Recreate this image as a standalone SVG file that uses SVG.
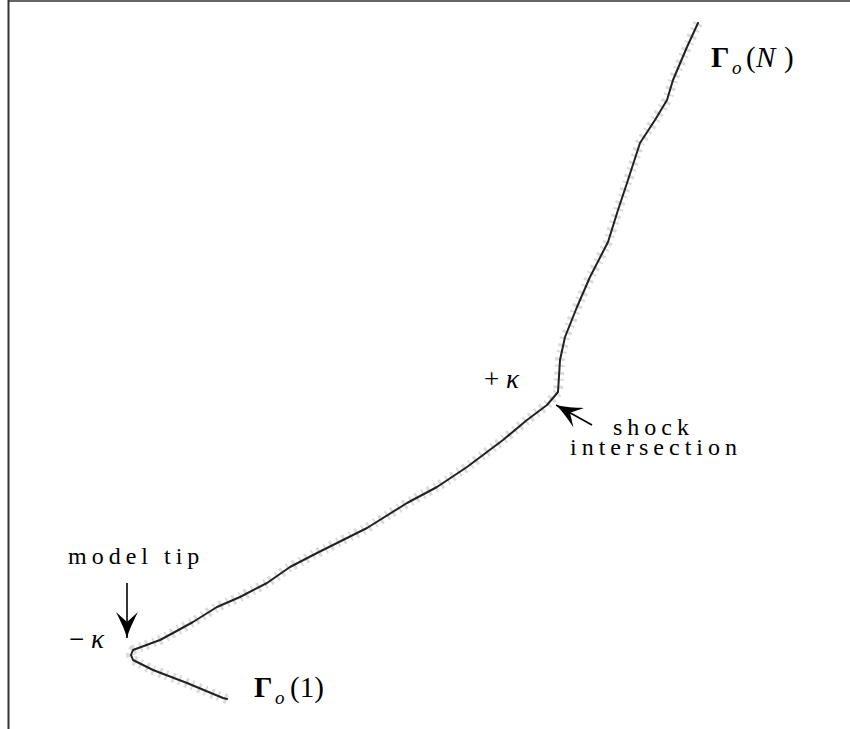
<svg xmlns="http://www.w3.org/2000/svg" width="850" height="729" viewBox="0 0 850 729">
<style>
.lbl{font-family:"Liberation Serif","Times New Roman",serif;font-size:24px;fill:#000;letter-spacing:5px}
.math{font-family:"Liberation Serif","Times New Roman",serif;font-size:27px;fill:#000}
.it{font-style:italic}
.bf{font-weight:bold}
.curve{fill:none;stroke:#222;stroke-width:2;stroke-linejoin:round;stroke-linecap:round}
.fuzz{fill:none;stroke:#cfcfcf;stroke-width:10;stroke-dasharray:3 5 2 4;stroke-linejoin:round;opacity:0.75}
.shaft{fill:none;stroke:#000;stroke-width:1.6}
</style>
<defs>
<marker id="ah" markerUnits="userSpaceOnUse" viewBox="0 0 28 22" refX="26" refY="11" markerWidth="28" markerHeight="22" orient="auto">
<path d="M26,11 C18,9 8,4 0,0 L10,11 L0,22 C8,18 18,13 26,11 Z" fill="#000"/>
</marker>
</defs>
<g id="frame">
<line x1="8" y1="1" x2="850" y2="1" stroke="#666" stroke-width="2"/>
<line x1="8.5" y1="0" x2="8.5" y2="729" stroke="#333" stroke-width="2"/>
</g>
<g id="shock-curve">
<path class="fuzz" d="M227,699 L223,698 L187,683 L153,670 L133,660 L131,655 L133,650 L160,640 L173,633 L193,622 L217,607 L240,597 L267,583 L290,567 L317,553 L367,528 L407,503 L437,487 L467,467 L503,440 L527,420 L547,405 L558,392 L560,360 L565,337 L577,307 L590,277 L608,242 L618,210 L627,183 L640,143 L655,120 L667,100 L673,80 L687,47 L698,23"/>
<path class="curve" d="M227,699 L223,698 L187,683 L153,670 L133,660 L131,655 L133,650 L160,640 L173,633 L193,622 L217,607 L240,597 L267,583 L290,567 L317,553 L367,528 L407,503 L437,487 L467,467 L503,440 L527,420 L547,405 L558,392 L560,360 L565,337 L577,307 L590,277 L608,242 L618,210 L627,183 L640,143 L655,120 L667,100 L673,80 L687,47 L698,23"/>
</g>
<g id="connectors">
<line class="shaft" x1="127" y1="583" x2="127" y2="638" marker-end="url(#ah)"/>
<line class="shaft" x1="592" y1="425" x2="556" y2="405" marker-end="url(#ah)"/>
</g>
<g id="label-gammaN">
<text class="math" y="67"><tspan class="bf" x="711" font-size="29">Γ</tspan><tspan class="it" x="732" y="74" font-size="19">o</tspan><tspan x="746" y="67" font-size="29">(</tspan><tspan class="it" x="756" font-size="29">N</tspan><tspan x="784" font-size="29">)</tspan></text>
</g>
<g id="label-gamma1">
<text class="math" y="697"><tspan class="bf" x="254" font-size="29">Γ</tspan><tspan class="it" x="275" y="704" font-size="19">o</tspan><tspan x="290" y="697" font-size="29">(1)</tspan></text>
</g>
<g id="label-pluskappa">
<text class="math" y="388"><tspan x="484">+</tspan><tspan class="it" x="506">κ</tspan></text>
</g>
<g id="label-minuskappa">
<text class="math" y="648"><tspan x="69">−</tspan><tspan class="it" x="91">κ</tspan></text>
</g>
<g id="label-model-tip">
<text class="lbl" x="68" y="564">model tip</text>
</g>
<g id="label-shock">
<text class="lbl" x="613" y="435">shock</text>
<text class="lbl" x="570" y="455">intersection</text>
</g>
</svg>
